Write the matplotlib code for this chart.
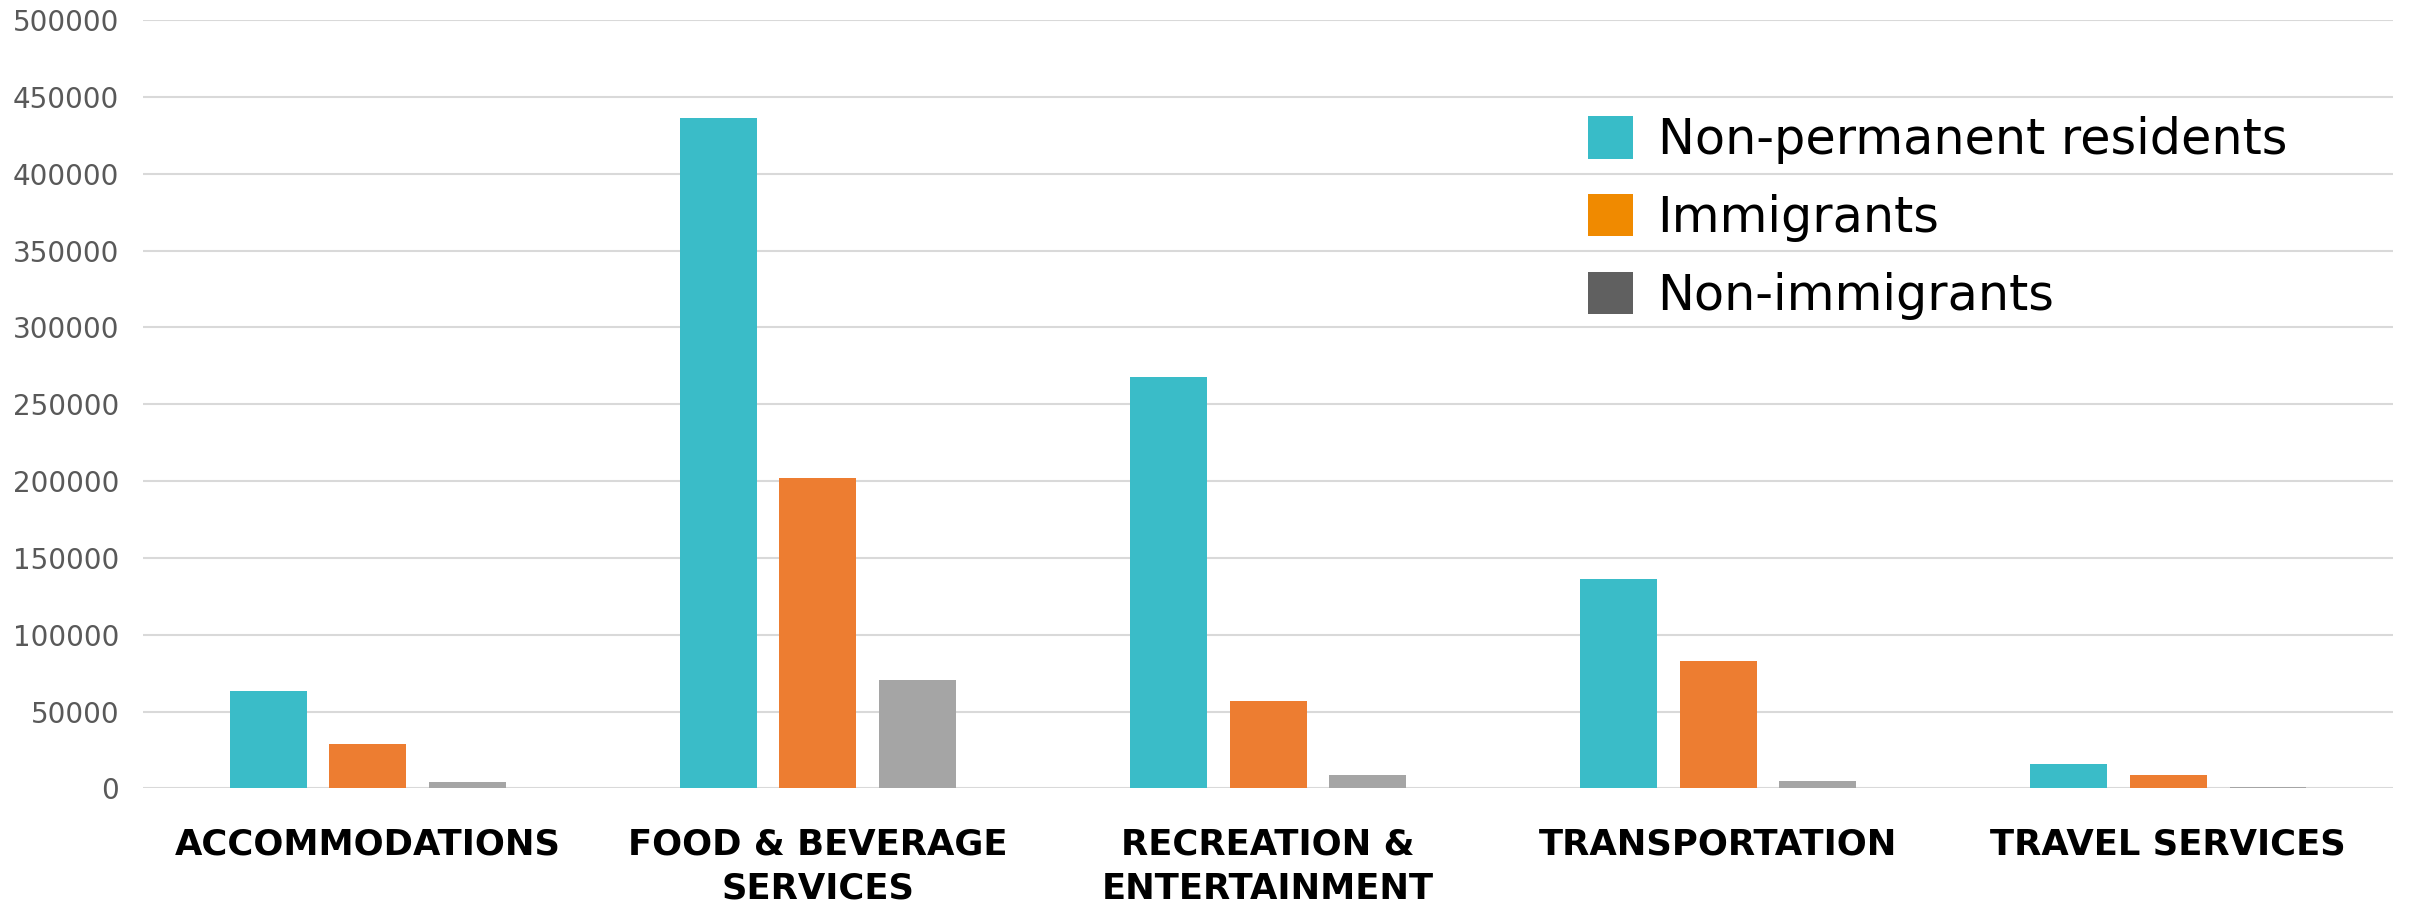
import numpy as np
import matplotlib.pyplot as plt
from matplotlib.patches import Patch

# === Data ===
categories = ["ACCOMMODATIONS", "FOOD & BEVERAGE\nSERVICES", "RECREATION &\nENTERTAINMENT",
              "TRANSPORTATION", "TRAVEL SERVICES"]
series_names = ["Non-permanent residents", "Immigrants", "Non-immigrants"]
non_permanent = [63500, 436000, 268000, 136500, 15700]
immigrants = [28700, 202000, 57000, 83000, 8700]
non_immigrants = [4100, 70500, 8500, 4700, 1000]

bar_colors = ["#3ABCC8", "#ED7D31", "#A5A5A5"]
legend_colors = ["#38BCC8", "#F08A00", "#606060"]

# === Figure ===
fig = plt.figure(figsize=(24.1, 9.07), dpi=100)
ax = fig.add_axes([0.0593, 0.1307, 0.9337, 0.8473])

x = np.arange(len(categories))
width = 0.171
step = 0.222
for i, vals in enumerate([non_permanent, immigrants, non_immigrants]):
    ax.bar(x + (i - 1) * step, vals, width=width, color=bar_colors[i], zorder=3)

ax.set_xlim(-0.5, len(categories) - 0.5)
ax.set_ylim(0, 500000)
ax.set_yticks(np.arange(0, 500001, 50000))
ax.yaxis.grid(True, color="#d9d9d9", linewidth=1.5, zorder=0)
ax.tick_params(axis="y", length=0, labelsize=20, labelcolor="#595959", pad=17)
ax.set_xticks(x)
ax.set_xticklabels(categories, fontsize=25.5, fontweight="bold", color="black",
                   linespacing=1.38)
ax.tick_params(axis="x", length=0, pad=28)
for s in ax.spines.values():
    s.set_visible(False)

handles = [Patch(facecolor=c) for c in legend_colors]
ax.legend(handles, series_names, loc="upper left", bbox_to_anchor=(0.642, 0.875),
          frameon=False, fontsize=35.5, handlelength=0.92, handleheight=0.95,
          handletextpad=0.5, labelspacing=0.6, borderpad=0, borderaxespad=0)

fig.savefig("out.png", dpi=100)
